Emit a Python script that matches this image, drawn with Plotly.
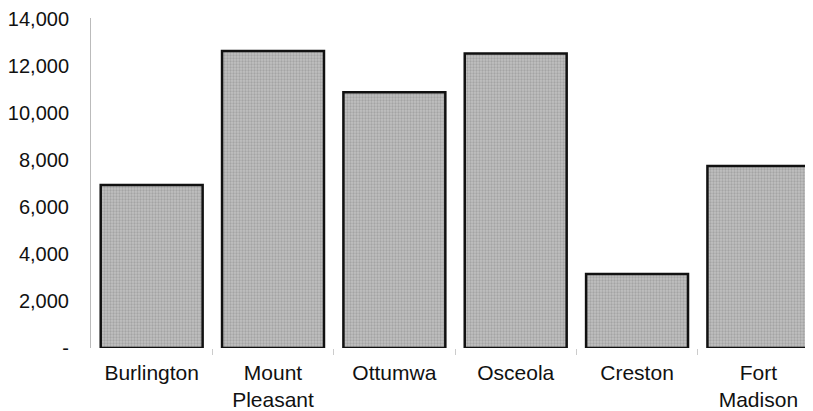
import plotly.graph_objects as go

categories = ["Burlington", "Mount<br>Pleasant", "Ottumwa", "Osceola", "Creston", "Fort<br>Madison"]
values = [6950, 12650, 10900, 12550, 3150, 7750]
tick_vals = [0, 2000, 4000, 6000, 8000, 10000, 12000, 14000]
tick_text = ["-", "2,000", "4,000", "6,000", "8,000", "10,000", "12,000", "14,000"]
boundaries = [0.5, 1.5, 2.5, 3.5, 4.5]

font = "Liberation Sans, Arial, sans-serif"

fig = go.Figure(
    go.Bar(
        x=list(range(len(categories))),
        y=values,
        marker=dict(
            color="#b4b4b4",
            line=dict(color="#111111", width=2.5),
            pattern=dict(shape=".", fgcolor="#888888", bgcolor="#c0c0c0", size=3, solidity=0.45),
        ),
        hoverinfo="skip",
    )
)

# page body has an 8px margin, so the figure is slightly smaller and offset
fig.update_layout(
    width=805,
    height=403,
    margin=dict(l=79, r=0, t=9, b=63),
    plot_bgcolor="white",
    paper_bgcolor="white",
    bargap=0.16,
    showlegend=False,
    font=dict(family=font, size=21, color="#111111"),
)

fig.update_xaxes(
    range=[-0.5, 5.45],
    tickvals=list(range(len(categories))),
    ticktext=categories,
    showgrid=False,
    zeroline=False,
    showline=False,
    ticks="",
    ticklabelstandoff=10,
    tickfont=dict(size=21),
    minor=dict(tickmode="array", tickvals=boundaries, ticks="outside",
               ticklen=6, tickcolor="#cccccc", tickwidth=1, showgrid=False),
)

fig.update_yaxes(
    range=[0, 14060],
    tickvals=tick_vals,
    ticktext=tick_text,
    showgrid=False,
    zeroline=False,
    showline=True,
    linecolor="#bbbbbb",
    linewidth=1,
    ticks="",
    ticklabelstandoff=17,
    ticklabeloverflow="allow",
    tickfont=dict(size=20),
)

fig.write_html("out.html")
